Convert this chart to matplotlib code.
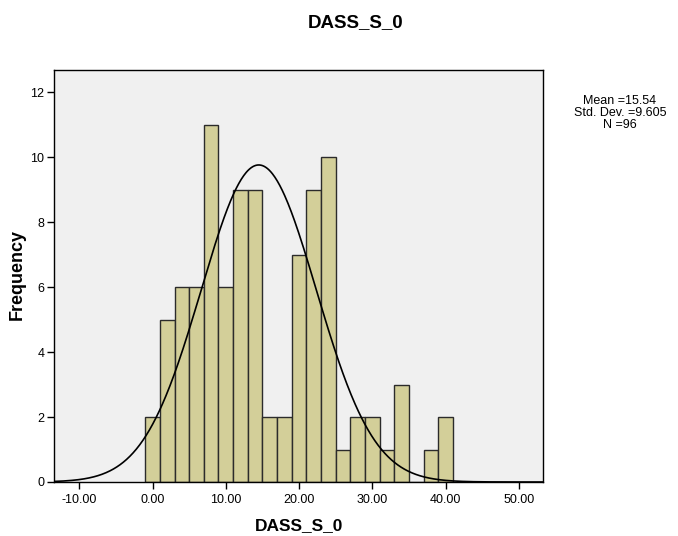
import numpy as np
import matplotlib
matplotlib.use("Agg")
import matplotlib.pyplot as plt

# ==============================
# DONNEES
# ==============================
BIN_EDGES = [-1, 1, 3, 5, 7, 9, 11, 13, 15, 17, 19, 21, 23, 25, 27, 29, 31, 33, 35, 37, 39, 41]
COUNTS = [2, 5, 6, 6, 11, 6, 9, 9, 2, 2, 7, 9, 10, 1, 2, 2, 1, 3, 0, 1, 2]
X_TICKS = [-10, 0, 10, 20, 30, 40, 50]
Y_TICKS = [0, 2, 4, 6, 8, 10, 12]
CURVE_MEAN = 14.5
CURVE_SD = 7.85
N = 96
STATS_TEXT = "Mean =15.54\nStd. Dev. =9.605\nN =96"
TITLE = "DASS_S_0"

plt.rcParams['font.family'] = ['Liberation Sans', 'DejaVu Sans']

fig = plt.figure(figsize=(6.78, 5.36), dpi=100)
ax = fig.add_axes([54 / 678, 1 - 482 / 536, (543 - 54) / 678, (482 - 70) / 536])
ax.set_facecolor('#F0F0F0')

edges = np.array(BIN_EDGES, dtype=float)
counts = np.array(COUNTS, dtype=float)
widths = np.diff(edges)
ax.bar(edges[:-1], counts, width=widths, align='edge', color='#D3CF99',
       edgecolor='#2b2b2b', linewidth=1.0, zorder=2)

# courbe normale
xs = np.linspace(-13.5, 53.5, 600)
bw = widths[0]
ys = N * bw / (CURVE_SD * np.sqrt(2 * np.pi)) * np.exp(-0.5 * ((xs - CURVE_MEAN) / CURVE_SD) ** 2)
ax.plot(xs, ys, color='black', linewidth=1.2, zorder=3)

ax.set_xlim(-13.45, 53.3)
ax.set_ylim(0, 12.68)
ax.set_xticks(X_TICKS)
ax.set_xticklabels([f"{t:.2f}" for t in X_TICKS], fontsize=9)
ax.set_yticks(Y_TICKS)
ax.set_yticklabels([str(t) for t in Y_TICKS], fontsize=9)
ax.tick_params(direction='out', length=5, width=1, colors='black')
ax.tick_params(axis='y', pad=2)
for s in ax.spines.values():
    s.set_linewidth(1)
    s.set_color('black')

fig.text(299 / 678, 1 - 526 / 536, TITLE, ha='center', va='center', fontsize=12.5, fontweight='bold')
fig.text(17 / 678, 1 - 274 / 536, "Frequency", ha='center', va='center', rotation=90,
         fontsize=13, fontweight='bold')
fig.text(356 / 678, 1 - 23 / 536, TITLE, ha='center', va='center', fontsize=13.5, fontweight='bold')
fig.text(620 / 678, 1 - 113 / 536, STATS_TEXT, ha='center', va='center', fontsize=9, linespacing=0.95)

fig.savefig("out.png", dpi=100)
